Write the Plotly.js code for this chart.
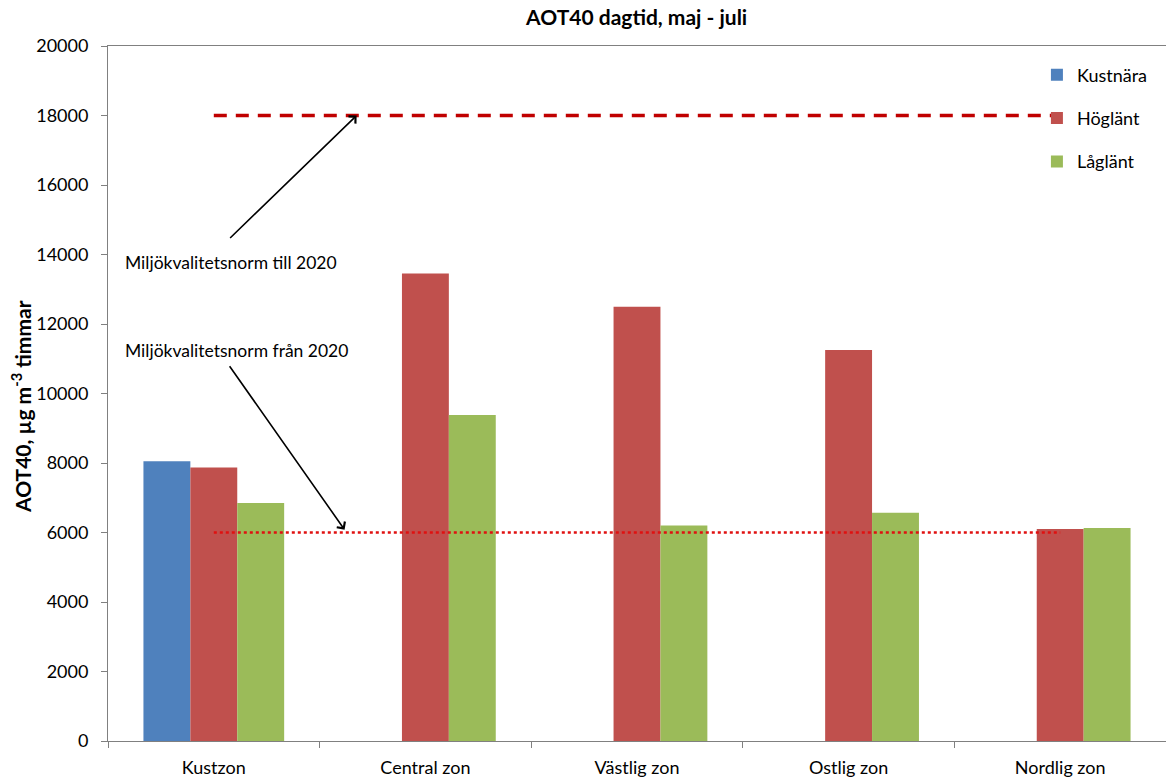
<!DOCTYPE html>
<html>
<head>
<meta charset="utf-8">
<script src="https://cdn.plot.ly/plotly-3.0.1.min.js"></script>
<style>html,body{margin:0;padding:0;background:#fff;}#chart{width:1166px;height:780px;}</style>
</head>
<body>
<div id="chart"></div>
<script>
const categories = ["Kustzon", "Central zon", "Västlig zon", "Ostlig zon", "Nordlig zon"];
const seriesNames = ["Kustnära", "Höglänt", "Låglänt"];
const kustnara = [8050, null, null, null, null];
const hoglant = [7870, 13450, 12500, 11250, 6100];
const laglant = [6850, 9380, 6200, 6570, 6130];
const normTill2020 = [18000, 18000, 18000, 18000, 18000];
const normFran2020 = [6000, 6000, 6000, 6000, 6000];
const yTicks = [0, 2000, 4000, 6000, 8000, 10000, 12000, 14000, 16000, 18000, 20000];

const FONT = "Lato, 'Liberation Sans', Arial, sans-serif";

const traces = [
  {type: "bar", name: seriesNames[0], x: categories, y: kustnara, marker: {color: "#4F81BD"}, legendgroup: "a"},
  {type: "bar", name: seriesNames[1], x: categories, y: hoglant, marker: {color: "#C0504D"}, legendgroup: "b"},
  {type: "bar", name: seriesNames[2], x: categories, y: laglant, marker: {color: "#9BBB59"}, legendgroup: "c"},
  {type: "scatter", mode: "lines", x: categories, y: normTill2020, showlegend: false, hoverinfo: "skip",
   line: {color: "#C00000", width: 3.5, dash: "13px,9px"}},
  {type: "scatter", mode: "lines", x: categories, y: normFran2020, showlegend: false, hoverinfo: "skip",
   line: {color: "#E01010", width: 2.5, dash: "dot"}}
];

const layout = {
  width: 1166, height: 780,
  margin: {l: 108, r: 0, t: 46, b: 39},
  paper_bgcolor: "#fff", plot_bgcolor: "#fff",
  font: {family: FONT, size: 18, color: "#000"},
  title: {text: "<b>AOT40 dagtid, maj - juli</b>", x: 0.546, xanchor: "center", y: 0.977, yanchor: "middle",
          font: {family: FONT, size: 21, color: "#000"}},
  barmode: "group", bargap: 0.335, bargroupgap: 0,
  xaxis: {type: "category", showline: true, linecolor: "#808080", linewidth: 1, mirror: true,
          ticks: "outside", tickson: "boundaries", ticklen: 6, tickcolor: "#808080", ticklabelstandoff: 10,
          showgrid: false, zeroline: false, tickfont: {family: FONT, size: 18, color: "#000"}},
  yaxis: {range: [0, 20000], tickvals: yTicks, ticktext: yTicks.map(String),
          showline: true, linecolor: "#808080", linewidth: 1, mirror: true,
          ticks: "outside", ticklen: 6, tickcolor: "#808080", showgrid: false, zeroline: false,
          ticklabelstandoff: 9,
          tickfont: {family: FONT, size: 18, color: "#000"}},
  legend: {x: 0.878, xanchor: "left", y: 0.985, yanchor: "top", traceorder: "grouped", tracegroupgap: 17,
           font: {family: FONT, size: 18, color: "#000"}, bgcolor: "rgba(0,0,0,0)", itemwidth: 30},
  showlegend: true,
  annotations: [
    {x: 0.675, y: 18000, xref: "x", yref: "y", ax: -128, ay: 124, showarrow: true, arrowhead: 4, arrowsize: 1.2,
     arrowwidth: 1.6, arrowcolor: "#000", text: ""},
    {x: 0.618, y: 6080, xref: "x", yref: "y", ax: -116, ay: -165, showarrow: true, arrowhead: 4, arrowsize: 1.2,
     arrowwidth: 1.6, arrowcolor: "#000", text: ""},
    {x: 123, y: 262, xref: "paper", yref: "paper", showarrow: false, text: "Miljökvalitetsnorm till 2020",
     xanchor: "left", yanchor: "middle", font: {family: FONT, size: 17.5, color: "#000"}},
    {x: 123, y: 350, xref: "paper", yref: "paper", showarrow: false, text: "Miljökvalitetsnorm från 2020",
     xanchor: "left", yanchor: "middle", font: {family: FONT, size: 17.5, color: "#000"}},
    {x: 21, y: 407, xref: "paper", yref: "paper", showarrow: false, textangle: -90,
     text: "<b>AOT40, µg m<sup>-3</sup> timmar</b>",
     xanchor: "center", yanchor: "middle", font: {family: FONT, size: 21, color: "#000"}}
  ]
};
// convert pixel positions of the text annotations to paper coordinates
const pw = 1166 - 108 - 0, ph = 780 - 46 - 39;
layout.annotations.slice(2).forEach(a => { a.x = (a.x - 108) / pw; a.y = (741 - a.y) / ph; });

Plotly.newPlot("chart", traces, layout, {displayModeBar: false, staticPlot: true});
</script>
</body>
</html>
